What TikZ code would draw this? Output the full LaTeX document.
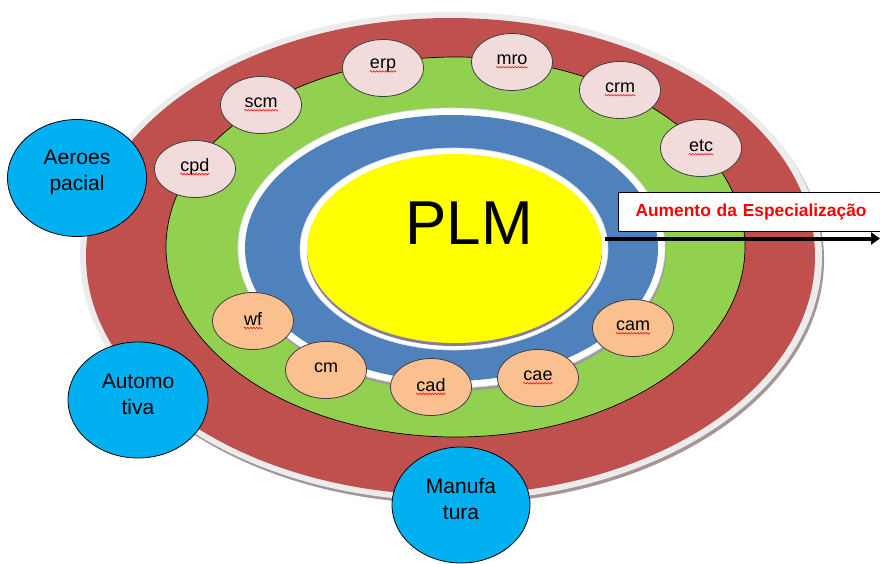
\documentclass[tikz,border=0pt]{standalone}
\usepackage{fontspec}
\setmainfont{Liberation Sans}
\usetikzlibrary{shapes.geometric, arrows.meta, decorations.pathmorphing}

\definecolor{ringred}{HTML}{C0504D}
\definecolor{ringgreen}{HTML}{92D050}
\definecolor{ringblue}{HTML}{4F81BD}
\definecolor{coreyellow}{HTML}{FFFF00}
\definecolor{bubpink}{HTML}{F2DCDB}
\definecolor{bubpeach}{HTML}{FAC090}
\definecolor{hubcyan}{HTML}{00B0F0}
\definecolor{rimgray}{HTML}{ECECEC}
\definecolor{edgegray}{HTML}{DADADA}
\definecolor{redshade}{HTML}{A69595}
\definecolor{blueshade}{HTML}{9C9C9C}
\definecolor{coreshade}{HTML}{857DA0}
\definecolor{labelred}{HTML}{FF0000}

% one small labelled bubble: style, name, x, y, text
\newcommand\smallbub[5]{%
  \node[#1] (#2) at (#3,#4) {};
  \node[bubtext] (#2-t) at ([yshift=2pt]#2.center) {#5};
}
% red wavy underline below a bubble's text
\newcommand\squigunder[1]{%
  \draw[squig] ([yshift=-2.5pt]#1-t.base west) -- ([yshift=-2.5pt]#1-t.base east);
}

\begin{document}
\begin{tikzpicture}[x=1pt, y=-1pt,
  ring/.style={ellipse, inner sep=0pt, outer sep=0pt},
  bubble/.style={ellipse, inner sep=0pt, minimum width=81pt, minimum height=57pt,
    draw=black!75, line width=0.8pt},
  pinkbub/.style={bubble, fill=bubpink},
  peachbub/.style={bubble, fill=bubpeach},
  bubtext/.style={inner sep=0pt, font=\fontsize{18}{21}\selectfont},
  squig/.style={draw=red, line width=0.6pt,
    decorate, decoration={snake, amplitude=0.8pt, segment length=3pt}},
  hub/.style={ellipse, inner sep=0pt, fill=hubcyan, draw=black, line width=0.8pt},
  hubtext/.style={align=center, font=\fontsize{21}{26}\selectfont, yshift=6pt},
  labelbox/.style={draw=black, line width=1pt, fill=white, minimum height=39pt,
    text width=260pt, inner xsep=17pt, align=left, text=labelred,
    font=\fontsize{17.4}{20}\selectfont\bfseries},
  spearrow/.style={line width=4pt, -{Triangle[length=9pt, width=12pt]}}
]
\useasboundingbox (0,0) rectangle (880,563);
\clip (0,0) rectangle (880,563);
\fill[white] (0,0) rectangle (880,563);

% outer red ring with its pale rim and shadow
\node[ring, minimum width=742pt, minimum height=489pt, fill=redshade] (redshadow) at (453,259.5) {};
\node[ring, minimum width=742pt, minimum height=489pt, fill=rimgray] (redrim) at (451,256.5) {};
\node[ring, minimum width=729pt, minimum height=477pt, fill=ringred] (redring) at (450.5,256.5) {};

% green ring
\node[ring, minimum width=579pt, minimum height=380pt, fill=ringgreen, draw=black, line width=0.7pt] (greenring) at (455.5,247) {};

% blue ring with white border
\node[ring, minimum width=427pt, minimum height=280pt, fill=blueshade] (blueshadow) at (452.5,251) {};
\node[ring, minimum width=427pt, minimum height=280pt, fill=white, draw=edgegray, line width=0.6pt] (bluerim) at (451.5,248) {};
\node[ring, minimum width=413pt, minimum height=266pt, fill=ringblue] (bluering) at (451.5,248) {};

% yellow core
\node[ring, minimum width=308pt, minimum height=202pt, fill=white, draw=edgegray, line width=0.6pt] (corerim) at (454,249) {};
\node[ring, minimum width=295pt, minimum height=189pt, fill=coreshade] (coreshadow) at (454.5,251.5) {};
\node[ring, minimum width=295pt, minimum height=189pt, fill=coreyellow] (core) at (454.5,248.5) {};
\node[inner sep=0pt, font=\fontsize{62}{62}\selectfont] (plm) at (469,223) {PLM};

% systems around the green ring
\smallbub{pinkbub}{cpd}{195}{169}{cpd}
\smallbub{pinkbub}{scm}{261}{105}{scm}
\smallbub{pinkbub}{erp}{383}{68}{erp}
\smallbub{pinkbub}{mro}{512}{62}{mro}
\smallbub{pinkbub}{crm}{620}{90}{crm}
\smallbub{pinkbub}{etc}{701}{148}{etc}
\smallbub{peachbub}{wf}{253}{321}{wf}
\smallbub{peachbub}{cm}{326}{370}{cm}
\smallbub{peachbub}{cad}{431}{387}{cad}
\smallbub{peachbub}{cae}{538}{378}{cae}
\smallbub{peachbub}{cam}{633}{328}{cam}
\squigunder{cpd}
\squigunder{scm}
\squigunder{erp}
\squigunder{mro}
\squigunder{crm}
\squigunder{etc}
\squigunder{wf}
\squigunder{cad}
\squigunder{cae}
\squigunder{cam}

% industry sectors
\node[hub, minimum width=139pt, minimum height=117pt, label={[hubtext]center:Aeroes\\pacial}] (aero) at (77,178) {};
\node[hub, minimum width=140pt, minimum height=116pt, label={[hubtext]center:Automo\\tiva}] (auto) at (138,400) {};
\node[hub, minimum width=138pt, minimum height=116pt, label={[hubtext]center:Manufa\\tura}] (manuf) at (461,505) {};

% specialisation arrow and its caption
\node[labelbox, anchor=north west] (spec) at (618,192) {Aumento da Especialização};
\coordinate (arrowtail) at (605,238.5);
\coordinate (arrowtip) at (880,238.5);
\draw[spearrow] (arrowtail) -- (arrowtip);
\end{tikzpicture}
\end{document}
